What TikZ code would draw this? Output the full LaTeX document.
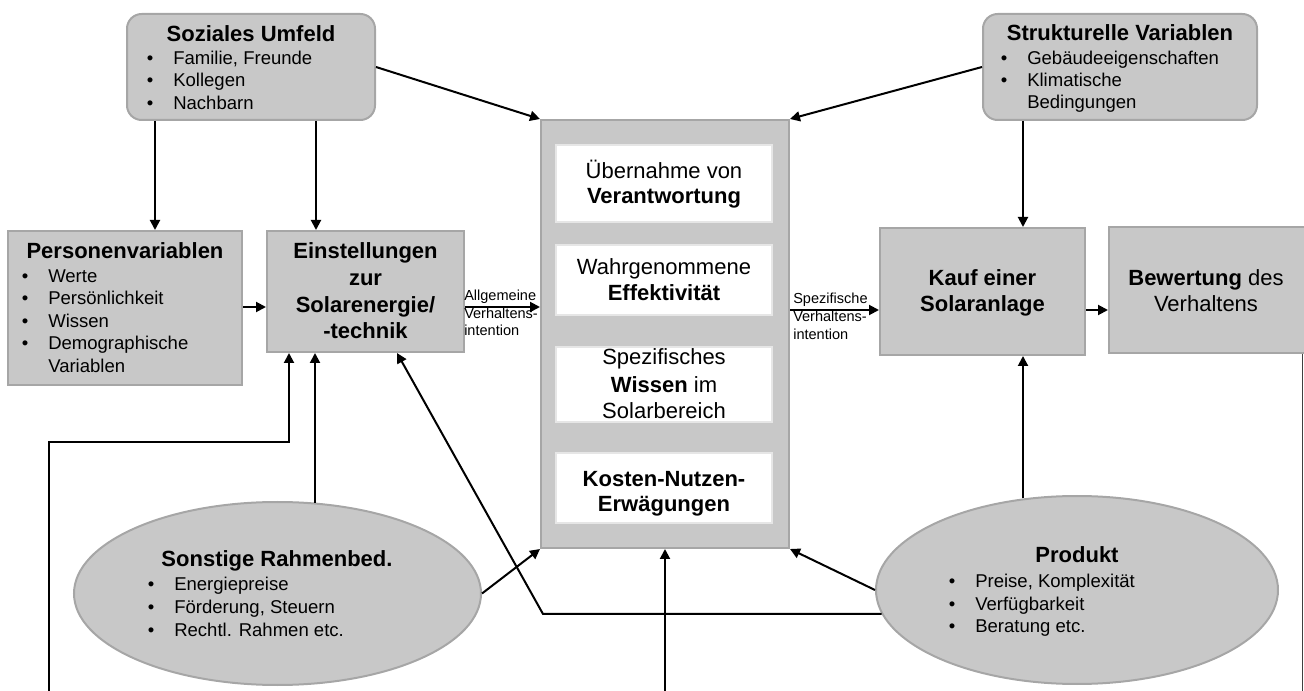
\documentclass[tikz,border=0pt]{standalone}
\usepackage{fontspec}
\setmainfont{Liberation Sans}
\usetikzlibrary{arrows.meta,shapes.geometric,fit}
\definecolor{boxfill}{RGB}{200,200,200}
\definecolor{boxline}{RGB}{166,166,166}
\definecolor{innerline}{RGB}{230,230,230}
\newcommand\ftitle{\fontsize{16.5pt}{19pt}\selectfont\bfseries}
\newcommand\fbody{\fontsize{13.9pt}{16.5pt}\selectfont}
\newcommand\fcen{\fontsize{16.5pt}{19pt}\selectfont}
\newcommand\fsmall{\fontsize{10.9pt}{13pt}\selectfont}
\newcommand\bul{\llap{\textbullet\hspace{15pt}}}
\begin{document}
\begin{tikzpicture}[x=0.75pt,y=-0.75pt,
  gbox/.style={draw=boxline,fill=boxfill,line width=1.5pt,inner sep=0pt},
  wbox/.style={draw=innerline,fill=white,line width=1.5pt,inner sep=0pt},
  gell/.style={ellipse,draw=boxline,fill=boxfill,line width=1.5pt,inner sep=0pt},
  arr/.style={line width=1.5pt,-{Triangle[length=7.5pt,width=7.5pt]}},
  plain/.style={line width=1.5pt},
  ttl/.style={inner sep=0pt,anchor=base,font=\ftitle},
  cen/.style={inner sep=0pt,anchor=base,font=\fcen},
  bod/.style={inner sep=0pt,anchor=base west,font=\fbody},
  sml/.style={inner sep=0pt,anchor=base west,font=\fsmall}]
\useasboundingbox (0,0) rectangle (1304,691);

% shapes
\node[gbox,rounded corners=11pt,fit={(127,14) (375,120)}] (soz) {};
\node[gbox,rounded corners=11pt,fit={(983,14) (1257,120)}] (struk) {};
\node[gbox,fit={(8,231) (242,385)}] (pers) {};
\node[gbox,fit={(267,231) (464,352)}] (einst) {};
\node[gbox,fit={(541,120) (789,548)}] (central) {};
\node[wbox,fit={(556,145) (772,222)}] (c1) {};
\node[wbox,fit={(556,245) (772,315)}] (c2) {};
\node[wbox,fit={(556,347) (772,422)}] (c3) {};
\node[wbox,fit={(556,453) (772,523)}] (c4) {};
\node[gbox,fit={(880,228) (1085,355)}] (kauf) {};
\node[gbox,fit={(1109,227) (1310,353)}] (bew) {};
\node[gell,minimum width=305.25pt,minimum height=137.25pt] (sons) at (277.5,593.5) {};
\node[gell,minimum width=301.5pt,minimum height=141pt] (prod) at (1077,590) {};

% texts
\node[ttl] (tsoz) at (251,41.7) {Soziales Umfeld};
\node[bod] (tsoz1) at (173,65) {\bul Familie, Freunde};
\node[bod] (tsoz2) at (173,87) {\bul Kollegen};
\node[bod] (tsoz3) at (173,110) {\bul Nachbarn};

\node[ttl] (tstr) at (1120,41) {Strukturelle Variablen};
\node[bod] (tstr1) at (1027,65) {\bul Gebäudeeigenschaften};
\node[bod] (tstr2) at (1027,87) {\bul Klimatische};
\node[bod] (tstr3) at (1027,109) {Bedingungen};

\node[ttl] (tper) at (125,259) {Personenvariablen};
\node[bod] (tper1) at (48,283) {\bul Werte};
\node[bod] (tper2) at (48,305) {\bul Persönlichkeit};
\node[bod] (tper3) at (48,327.5) {\bul Wissen};
\node[bod] (tper4) at (48,350) {\bul Demographische};
\node[bod] (tper5) at (48,372.5) {Variablen};

\node[ttl] (tein1) at (365.5,259) {Einstellungen};
\node[ttl] (tein2) at (365.5,285.7) {zur};
\node[ttl] (tein3) at (365.5,312.4) {Solarenergie/};
\node[ttl] (tein4) at (365.5,339) {-technik};

\node[cen] (tc1a) at (664,178.3) {Übernahme von};
\node[cen] (tc1b) at (664,204) {\bfseries Verantwortung};
\node[cen] (tc2a) at (664,275) {Wahrgenommene};
\node[cen] (tc2b) at (664,301) {\bfseries Effektivität};
\node[cen] (tc3a) at (664,365) {Spezifisches};
\node[cen] (tc3b) at (664,392.5) {\textbf{Wissen} im};
\node[cen] (tc3c) at (664,419) {Solarbereich};
\node[cen] (tc4a) at (664,486.7) {\bfseries Kosten-Nutzen-};
\node[cen] (tc4b) at (664,511.7) {\bfseries Erwägungen};

\node[ttl] (tka1) at (982.5,285.5) {Kauf einer};
\node[ttl] (tka2) at (982.5,311.7) {Solaranlage};
\node[cen] (tbe1) at (1206,285.5) {\textbf{Bewertung} des};
\node[cen] (tbe2) at (1206,311.7) {Verhaltens};

\node[sml] (tal1) at (464,301) {Allgemeine};
\node[sml] (tal2) at (464,318.5) {Verhaltens-};
\node[sml] (tal3) at (464,336) {intention};
\node[sml] (tsp1) at (793,304) {Spezifische};
\node[sml] (tsp2) at (793,322) {Verhaltens-};
\node[sml] (tsp3) at (793,340) {intention};

\node[ttl] (tso) at (277,566.7) {Sonstige Rahmenbed.};
\node[bod] (tso1) at (174,590.7) {\bul Energiepreise};
\node[bod] (tso2) at (174,613.5) {\bul Förderung, Steuern};
\node[bod] (tso3) at (174,636.7) {\bul Rechtl. Rahmen etc.};

\node[ttl] (tpr) at (1077,563) {Produkt};
\node[bod] (tpr1) at (975,587) {\bul Preise, Komplexität};
\node[bod] (tpr2) at (975,610) {\bul Verfügbarkeit};
\node[bod] (tpr3) at (975,632.7) {\bul Beratung etc.};

% free ends
\coordinate (bl) at (49,691);
\coordinate (bc) at (665,691);
\coordinate (br) at (1302.5,691);

% connectors
\draw[arr] (155,0 |- soz.south) -- (155,0 |- pers.north);
\draw[arr] (316,0 |- soz.south) -- (316,0 |- einst.north);
\draw[arr] (soz.east) -- (central.north west);
\draw[arr] (struk.west) -- (central.north east);
\draw[arr] (1023,0 |- struk.south) -- (1023,0 |- kauf.north);
\draw[arr] (pers.east |- 0,307) -- (einst.west |- 0,307);
\draw[arr] (einst.east |- 0,307) -- (central.west |- 0,307);
\draw[arr] (central.east |- 0,310) -- (kauf.west |- 0,310);
\draw[arr] (kauf.east |- 0,310) -- (bew.west |- 0,310);
\draw[arr] (bl) |- (289,442) -- (289,0 |- einst.south);
\draw[arr] (315,0 |- sons.67.36) -- (315,0 |- einst.south);
\draw[arr] (sons.east) -- (central.south west);
\draw[arr] (prod.187.66) -- (543,0 |- prod.187.66) -- (397,0 |- einst.south);
\draw[arr] (prod.west) -- (central.south east);
\draw[arr] (bc) -- (central.south);
\draw[arr] (1023,0 |- prod.120.83) -- (1023,0 |- kauf.south);
\draw[line width=0.75pt,black!75] (1302.5,0 |- bew.south) -- (br);
\end{tikzpicture}
\end{document}
